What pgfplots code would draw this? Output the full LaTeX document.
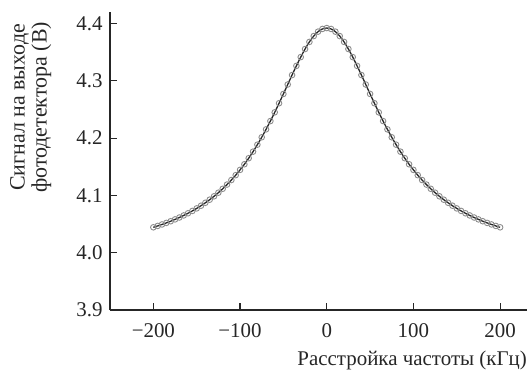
\documentclass[border=0pt]{standalone}
\usepackage{pgfplots}
\pgfplotsset{compat=1.18}
\usepackage{pgfplotstable}
\usepackage{fontspec}
\setmainfont{Liberation Serif}
\pgfplotstableread{
x y
-200 4.0443
-195 4.0467
-190 4.0493
-185 4.0520
-180 4.0549
-175 4.0581
-170 4.0614
-165 4.0650
-160 4.0688
-155 4.0729
-150 4.0773
-145 4.0820
-140 4.0871
-135 4.0925
-130 4.0984
-125 4.1047
-120 4.1115
-115 4.1189
-110 4.1268
-105 4.1353
-100 4.1445
-95 4.1543
-90 4.1649
-85 4.1763
-80 4.1885
-75 4.2014
-70 4.2152
-65 4.2297
-60 4.2449
-55 4.2608
-50 4.2770
-45 4.2935
-40 4.3100
-35 4.3260
-30 4.3413
-25 4.3554
-20 4.3678
-15 4.3780
-10 4.3857
-5 4.3904
0 4.3920
5 4.3904
10 4.3857
15 4.3780
20 4.3678
25 4.3554
30 4.3413
35 4.3260
40 4.3100
45 4.2935
50 4.2770
55 4.2608
60 4.2449
65 4.2297
70 4.2152
75 4.2014
80 4.1885
85 4.1763
90 4.1649
95 4.1543
100 4.1445
105 4.1353
110 4.1268
115 4.1189
120 4.1115
125 4.1047
130 4.0984
135 4.0925
140 4.0871
145 4.0820
150 4.0773
155 4.0729
160 4.0688
165 4.0650
170 4.0614
175 4.0581
180 4.0549
185 4.0520
190 4.0493
195 4.0467
200 4.0443
}\datatable
\begin{document}
\begin{tikzpicture}
\begin{axis}[
  at={(0,0)}, anchor=south west,
  scale only axis,
  width=417bp, height=298bp,
  xmin=-250, xmax=231,
  ymin=3.9, ymax=4.42,
  axis x line=bottom, axis y line=left,
  axis line style={-, line width=1.1pt, black!85},
  tick align=inside,
  major tick length=7bp,
  tick style={line width=1.1pt, black!85},
  xtick={-200,-100,0,100,200},
  xticklabels={−200,−100,0,100,200},
  ytick={3.9,4.0,4.1,4.2,4.3,4.4},
  yticklabels={3.9,4.0,4.1,4.2,4.3,4.4},
  ticklabel style={font=\fontsize{21}{24}\selectfont, text=black!85},
  xticklabel style={yshift=-10bp},
  yticklabel style={xshift=-4bp},
  ylabel={Сигнал на выходе\\фотодетектора (В)},
  ylabel style={align=center, font=\fontsize{22}{22}\selectfont, text=black!85, at={(axis description cs:-0.19,0.68)}, anchor=center},
  xlabel={Расстройка частоты (кГц)},
  xlabel style={font=\fontsize{21}{24}\selectfont, text=black!85, at={(axis description cs:1,-0.1846)}, anchor=base east, inner sep=0pt},
  clip=false,
]
\addplot[only marks, mark=o, mark size=2.8bp, mark options={draw=black!45, line width=0.9pt}] table {\datatable};
\addplot[black!85, line width=1.3pt, smooth] table {\datatable};
\end{axis}
\path (-110bp,-60bp) rectangle (418bp,310bp);
\end{tikzpicture}
\end{document}
